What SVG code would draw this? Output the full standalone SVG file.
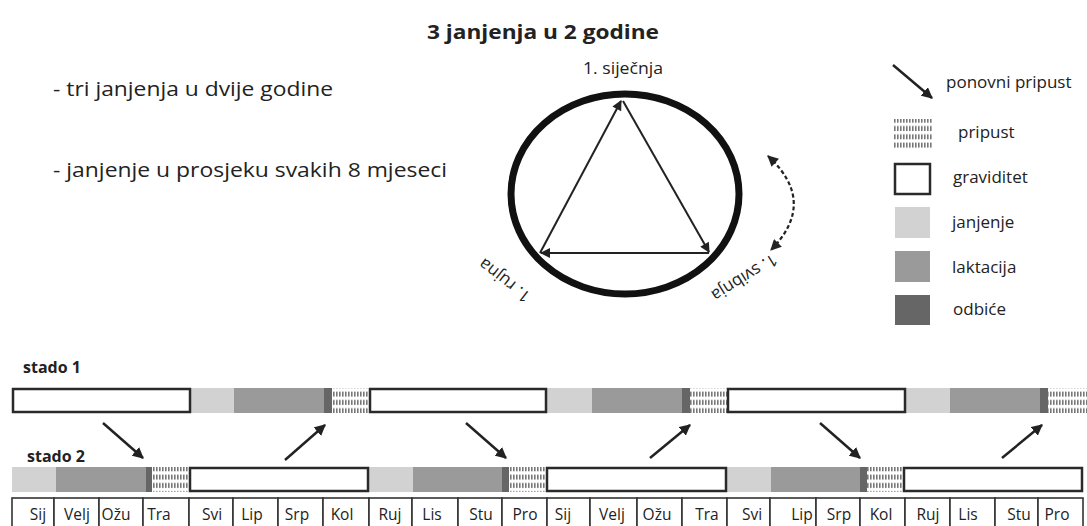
<svg xmlns="http://www.w3.org/2000/svg" width="1087" height="526" viewBox="0 0 1087 526">
<style>
text{font-family:"Open Sans","Noto Sans","DejaVu Sans",sans-serif;fill:#222}
.b{font-weight:bold}
.lbl{font-size:17px}
.mo{font-size:15.5px;text-anchor:middle}
.grav{fill:#fff;stroke:#2a2a2a;stroke-width:2.5}
.janj{fill:#d2d2d2}
.lakt{fill:#9a9a9a}
.odb{fill:#666}
.prip{fill:url(#hatch)}
.arr{stroke:#222;stroke-width:2.5;fill:none;marker-end:url(#ah)}
.tri{stroke:#222;stroke-width:2;fill:none;marker-end:url(#ah2)}
.cell{fill:#fff;stroke:#333;stroke-width:1.6}
</style>
<defs>
<pattern id="hatch" width="3" height="8.3" patternUnits="userSpaceOnUse">
<rect width="3" height="8.3" fill="#fff"/>
<rect x="0" y="1.5" width="1.6" height="5" fill="#777"/>
</pattern>
<marker id="ah" viewBox="0 0 10 10" refX="9" refY="5" markerWidth="4.5" markerHeight="4.5" orient="auto-start-reverse" markerUnits="strokeWidth">
<path d="M0,0 L10,5 L0,10 z" fill="#222"/>
</marker>
<marker id="ah2" viewBox="0 0 10 10" refX="9" refY="5" markerWidth="6" markerHeight="5" orient="auto-start-reverse" markerUnits="strokeWidth">
<path d="M0,0 L10,5 L0,10 z" fill="#222"/>
</marker>
</defs>

<g id="title">
<text class="b" x="427" y="39" font-size="20" textLength="232" lengthAdjust="spacingAndGlyphs">3 janjenja u 2 godine</text>
</g>

<g id="notes">
<text x="53" y="96" font-size="20" textLength="280" lengthAdjust="spacingAndGlyphs">- tri janjenja u dvije godine</text>
<text x="53" y="177" font-size="20" textLength="394" lengthAdjust="spacingAndGlyphs">- janjenje u prosjeku svakih 8 mjeseci</text>
</g>

<g id="cycle">
<ellipse cx="625" cy="194" rx="114" ry="100" fill="none" stroke="#111" stroke-width="7"/>
<line class="tri" x1="540" y1="253" x2="621" y2="101"/>
<line class="tri" x1="623" y1="101" x2="709" y2="252"/>
<line class="tri" x1="709" y1="253" x2="541" y2="253"/>
<path d="M768,156 Q818,202 771,250" fill="none" stroke="#222" stroke-width="2.2" stroke-dasharray="4,2.5" marker-start="url(#ah2)" marker-end="url(#ah2)"/>
<text class="lbl" x="583" y="74" textLength="80" lengthAdjust="spacingAndGlyphs">1. siječnja</text>
<text class="lbl" text-anchor="middle" transform="translate(505,280) rotate(218)" y="5">1. rujna</text>
<text class="lbl" text-anchor="middle" transform="translate(744,277) rotate(148)" y="5">1. svibnja</text>
</g>

<g id="legend">
<line class="arr" x1="893" y1="65" x2="932" y2="98"/>
<text class="lbl" x="946" y="88">ponovni pripust</text>
<rect class="prip" x="893" y="119" width="40" height="31"/>
<text class="lbl" x="958" y="138">pripust</text>
<rect class="grav" x="895" y="164" width="35" height="30"/>
<text class="lbl" x="953" y="183">graviditet</text>
<rect class="janj" x="895" y="207" width="35" height="31"/>
<text class="lbl" x="952" y="228">janjenje</text>
<rect class="lakt" x="895" y="251" width="35" height="31"/>
<text class="lbl" x="952" y="273">laktacija</text>
<rect class="odb" x="895" y="295" width="35" height="30"/>
<text class="lbl" x="953" y="315">odbiće</text>
</g>

<g id="stado1">
<text class="b" x="23" y="373" font-size="16">stado 1</text>
<rect class="janj" x="190" y="388" width="44" height="25"/>
<rect class="lakt" x="234" y="388" width="90" height="25"/>
<rect class="odb" x="324" y="388" width="8" height="25"/>
<rect class="prip" x="332" y="388" width="37" height="25"/>
<rect class="janj" x="546" y="388" width="46" height="25"/>
<rect class="lakt" x="592" y="388" width="90" height="25"/>
<rect class="odb" x="682" y="388" width="8" height="25"/>
<rect class="prip" x="690" y="388" width="37" height="25"/>
<rect class="janj" x="905" y="388" width="45" height="25"/>
<rect class="lakt" x="950" y="388" width="90" height="25"/>
<rect class="odb" x="1040" y="388" width="8" height="25"/>
<rect class="prip" x="1048" y="388" width="39" height="25"/>
<rect class="grav" x="13" y="389" width="177" height="23"/>
<rect class="grav" x="370" y="389" width="176" height="23"/>
<rect class="grav" x="728" y="389" width="177" height="23"/>
</g>

<g id="stado2">
<text class="b" x="27" y="462" font-size="16">stado 2</text>
<rect class="janj" x="12" y="467" width="44" height="25"/>
<rect class="lakt" x="56" y="467" width="90" height="25"/>
<rect class="odb" x="146" y="467" width="6" height="25"/>
<rect class="prip" x="152" y="467" width="37" height="25"/>
<rect class="janj" x="368" y="467" width="45" height="25"/>
<rect class="lakt" x="413" y="467" width="89" height="25"/>
<rect class="odb" x="502" y="467" width="7" height="25"/>
<rect class="prip" x="509" y="467" width="37" height="25"/>
<rect class="janj" x="726" y="467" width="45" height="25"/>
<rect class="lakt" x="771" y="467" width="89" height="25"/>
<rect class="odb" x="860" y="467" width="7" height="25"/>
<rect class="prip" x="867" y="467" width="36" height="25"/>
<rect class="grav" x="190" y="468" width="178" height="23"/>
<rect class="grav" x="547" y="468" width="179" height="23"/>
<rect class="grav" x="904" y="468" width="178" height="23"/>
</g>

<g id="connectors">
<line class="arr" x1="103" y1="423" x2="143" y2="458"/>
<line class="arr" x1="466" y1="423" x2="506" y2="458"/>
<line class="arr" x1="820" y1="423" x2="860" y2="458"/>
<line class="arr" x1="285" y1="460" x2="325" y2="425"/>
<line class="arr" x1="650" y1="458" x2="690" y2="425"/>
<line class="arr" x1="1002" y1="458" x2="1042" y2="425"/>
</g>

<g id="months">
<rect class="cell" x="12" y="498" width="42" height="32"/>
<rect class="cell" x="54" y="498" width="45" height="32"/>
<rect class="cell" x="99" y="498" width="44" height="32"/>
<rect class="cell" x="143" y="498" width="46" height="32"/>
<rect class="cell" x="189" y="498" width="44" height="32"/>
<rect class="cell" x="233" y="498" width="45" height="32"/>
<rect class="cell" x="278" y="498" width="45" height="32"/>
<rect class="cell" x="323" y="498" width="46" height="32"/>
<rect class="cell" x="369" y="498" width="43" height="32"/>
<rect class="cell" x="412" y="498" width="46" height="32"/>
<rect class="cell" x="458" y="498" width="44" height="32"/>
<rect class="cell" x="502" y="498" width="45" height="32"/>
<rect class="cell" x="547" y="498" width="43" height="32"/>
<rect class="cell" x="590" y="498" width="47" height="32"/>
<rect class="cell" x="637" y="498" width="45" height="32"/>
<rect class="cell" x="682" y="498" width="45" height="32"/>
<rect class="cell" x="727" y="498" width="43" height="32"/>
<rect class="cell" x="770" y="498" width="46" height="32"/>
<rect class="cell" x="816" y="498" width="44" height="32"/>
<rect class="cell" x="860" y="498" width="45" height="32"/>
<rect class="cell" x="905" y="498" width="45" height="32"/>
<rect class="cell" x="950" y="498" width="45" height="32"/>
<rect class="cell" x="995" y="498" width="43" height="32"/>
<rect class="cell" x="1038" y="498" width="45" height="32"/>
<text class="mo" x="38" y="520">Sij</text>
<text class="mo" x="77" y="520">Velj</text>
<text class="mo" x="116" y="520">Ožu</text>
<text class="mo" x="159" y="520">Tra</text>
<text class="mo" x="212" y="520">Svi</text>
<text class="mo" x="252" y="520">Lip</text>
<text class="mo" x="297" y="520">Srp</text>
<text class="mo" x="342" y="520">Kol</text>
<text class="mo" x="390" y="520">Ruj</text>
<text class="mo" x="432" y="520">Lis</text>
<text class="mo" x="481" y="520">Stu</text>
<text class="mo" x="525" y="520">Pro</text>
<text class="mo" x="563" y="520">Sij</text>
<text class="mo" x="612" y="520">Velj</text>
<text class="mo" x="657" y="520">Ožu</text>
<text class="mo" x="707" y="520">Tra</text>
<text class="mo" x="752" y="520">Svi</text>
<text class="mo" x="802" y="520">Lip</text>
<text class="mo" x="839" y="520">Srp</text>
<text class="mo" x="881" y="520">Kol</text>
<text class="mo" x="928" y="520">Ruj</text>
<text class="mo" x="968" y="520">Lis</text>
<text class="mo" x="1019" y="520">Stu</text>
<text class="mo" x="1057" y="520">Pro</text>
</g>
</svg>
